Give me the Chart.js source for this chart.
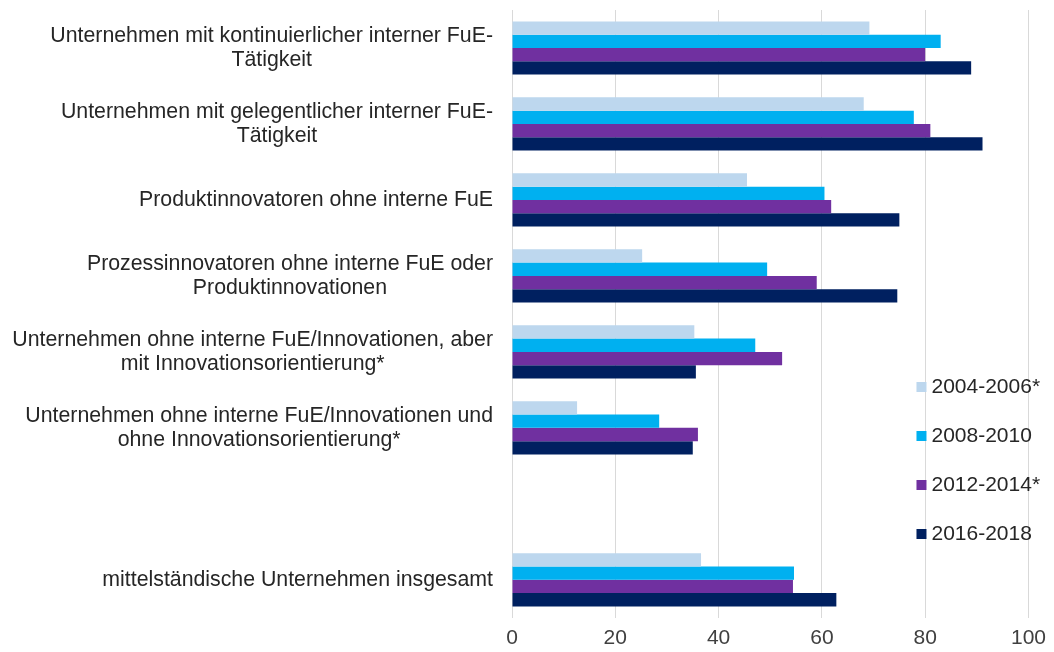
<!DOCTYPE html>
<html>
<head>
<meta charset="utf-8">
<script src="https://cdn.jsdelivr.net/npm/chart.js@4.4.1/dist/chart.umd.min.js"></script>
<style>
  html, body { margin: 0; padding: 0; background: #fff; }
  #wrap { width: 1054px; height: 652px; }
</style>
</head>
<body>
<div id="wrap"><canvas id="fueChart" width="1054" height="652"></canvas></div>
<script>
// Kategorien (mehrzeilig), leere Zeile vor "insgesamt"
const categories = [
    ['Unternehmen mit kontinuierlicher interner FuE-', 'Tätigkeit'],
    ['Unternehmen mit gelegentlicher interner FuE-', 'Tätigkeit'],
    ['Produktinnovatoren ohne interne FuE'],
    ['Prozessinnovatoren ohne interne FuE oder', 'Produktinnovationen'],
    ['Unternehmen ohne interne FuE/Innovationen, aber', 'mit Innovationsorientierung*'],
    ['Unternehmen ohne interne FuE/Innovationen und', 'ohne Innovationsorientierung*'],
    [''],
    ['mittelständische Unternehmen insgesamt']
];

const seriesLabels = ['2004-2006*', '2008-2010', '2012-2014*', '2016-2018'];

const values2004 = [69.2, 68.1, 45.5, 25.2, 35.3, 12.6, null, 36.6];
const values2008 = [83.0, 77.8, 60.5, 49.4, 47.1, 28.5, null, 54.6];
const values2012 = [80.0, 81.0, 61.8, 59.0, 52.3, 36.0, null, 54.4];
const values2016 = [88.9, 91.1, 75.0, 74.6, 35.6, 35.0, null, 62.8];

const xTicks = [0, 20, 40, 60, 80, 100];

const colors = ['#BDD7EE', '#00B0F0', '#7030A0', '#002060'];
const FONT = '"Liberation Sans", Arial, sans-serif';

// Beschriftungen links: Zeilen zentriert, Block rechtsbündig an der Achse
const categoryLabelPlugin = {
    id: 'categoryLabels',
    afterDraw(chart) {
        const ctx = chart.ctx;
        const yScale = chart.scales.y;
        const rightEdge = chart.chartArea.left - 19;
        const lineHeight = 24;
        ctx.save();
        ctx.font = '21.3px ' + FONT;
        ctx.fillStyle = '#262626';
        ctx.textAlign = 'center';
        ctx.textBaseline = 'middle';
        categories.forEach((lines, i) => {
            const yc = yScale.getPixelForValue(i);
            const w = Math.max(...lines.map(l => ctx.measureText(l).width));
            const xc = rightEdge - w / 2;
            const y0 = yc - (lines.length - 1) * lineHeight / 2;
            lines.forEach((l, j) => ctx.fillText(l, xc, y0 + j * lineHeight));
        });
        ctx.restore();
    }
};

// Legende rechts im Diagramm
const legendPlugin = {
    id: 'insideLegend',
    afterDraw(chart) {
        const ctx = chart.ctx;
        const area = chart.chartArea;
        const x = area.right - 112;
        let y = 387;
        ctx.save();
        ctx.font = '21px ' + FONT;
        ctx.textBaseline = 'middle';
        ctx.textAlign = 'left';
        chart.data.datasets.forEach(ds => {
            ctx.fillStyle = ds.backgroundColor;
            ctx.fillRect(x, y - 5, 10, 10);
            ctx.fillStyle = '#262626';
            ctx.fillText(ds.label, x + 15, y);
            y += 49;
        });
        ctx.restore();
    }
};

const seriesValues = [values2004, values2008, values2012, values2016];

new Chart(document.getElementById('fueChart').getContext('2d'), {
    type: 'bar',
    data: {
        labels: categories.map(c => c.join(' ')),
        datasets: seriesValues.map((vals, i) => ({
            label: seriesLabels[i],
            data: vals,
            backgroundColor: colors[i],
            borderWidth: 0,
            categoryPercentage: 0.7,
            barPercentage: 1.0
        }))
    },
    options: {
        indexAxis: 'y',
        responsive: false,
        animation: false,
        layout: { padding: { left: 512, right: 25, top: 10, bottom: -7 } },
        plugins: {
            legend: { display: false },
            tooltip: { enabled: false }
        },
        scales: {
            x: {
                min: 0,
                max: 100,
                afterBuildTicks: (axis) => { axis.ticks = xTicks.map(v => ({ value: v })); },
                grid: { color: '#D9D9D9', lineWidth: 1, drawTicks: false },
                border: { display: false },
                ticks: { padding: 8, color: '#404040', font: { family: FONT, size: 21 } }
            },
            y: {
                display: false
            }
        }
    },
    plugins: [categoryLabelPlugin, legendPlugin]
});
</script>
</body>
</html>
